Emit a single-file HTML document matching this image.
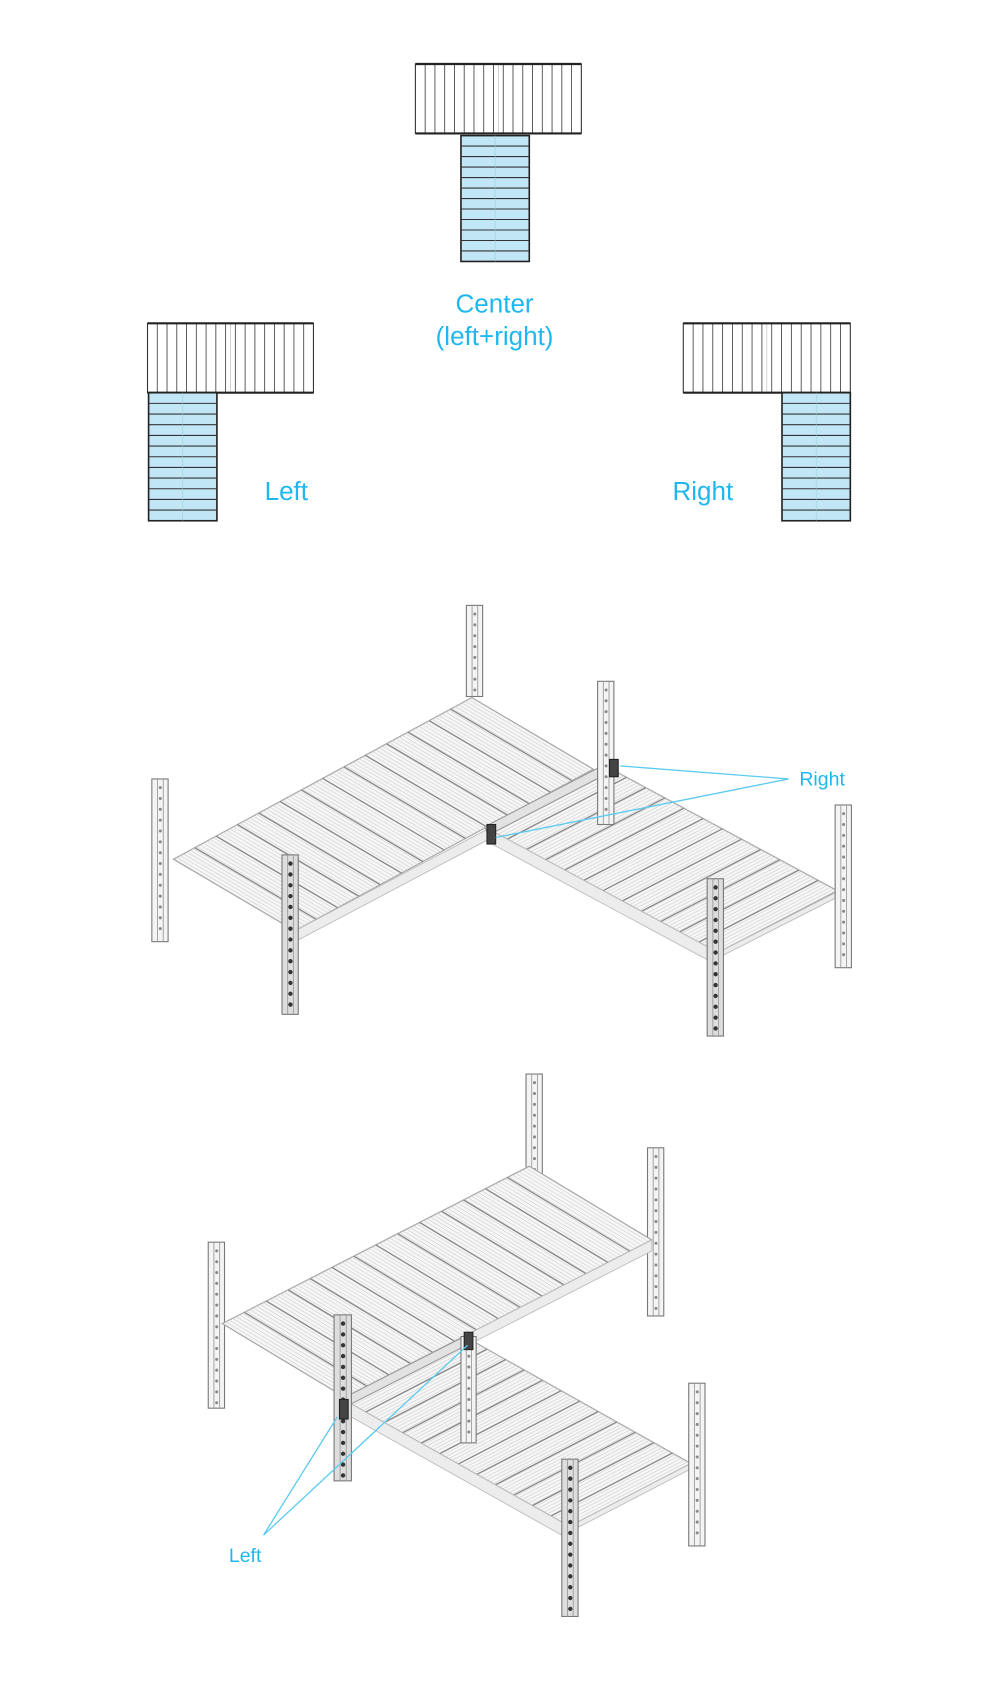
<!DOCTYPE html>
<html><head><meta charset="utf-8"><style>
html,body{margin:0;padding:0;background:#fff;width:1000px;height:1700px;overflow:hidden}
svg{display:block}
text{font-family:"Liberation Sans",sans-serif;fill:#1fb8ee}
</style></head><body>
<svg id="s" width="1000" height="1700" viewBox="0 0 922 1567" preserveAspectRatio="none" xmlns="http://www.w3.org/2000/svg">
<g id="g"></g>
<text x="456" y="288" font-size="24" text-anchor="middle">Center</text>
<text x="456" y="318" font-size="24" text-anchor="middle">(left+right)</text>
<text x="264" y="461" font-size="24" text-anchor="middle">Left</text>
<text x="648" y="461" font-size="24" text-anchor="middle">Right</text>
<text x="737" y="724" font-size="18">Right</text>
<text x="211" y="1440" font-size="18">Left</text>
</svg>
<script>
var g=document.getElementById('g'),h='';
function L(x1,y1,x2,y2,c,w){h+='<line x1="'+x1+'" y1="'+y1+'" x2="'+x2+'" y2="'+y2+'" stroke="'+c+'" stroke-width="'+(w||1)+'"/>';}
function R(x,y,w,hh,f,s,sw){h+='<rect x="'+x+'" y="'+y+'" width="'+w+'" height="'+hh+'" fill="'+f+'" stroke="'+s+'" stroke-width="'+(sw||1)+'"/>';}
function P(pts,f,s,sw){h+='<polygon points="'+pts.map(function(p){return p[0]+','+p[1]}).join(' ')+'" fill="'+f+'" stroke="'+s+'" stroke-width="'+(sw||1)+'"/>';}
// plans
function plan(x,y,w,hh,n){R(x,y,w,hh,'#fff','#333',1);for(var i=1;i<n;i++){var xx=x+w*i/n;L(xx,y,xx,y+hh,'#444',0.8);}L(x+w/2,y,x+w/2,y+hh,'#bbb',0.6);L(x,y,x+w,y,'#222',2);L(x,y+hh,x+w,y+hh,'#222',2);}
function blue(x,y,w,hh,n){R(x,y,w,hh,'#c1e7f7','#222',1.5);for(var i=1;i<n;i++){var yy=y+hh*i/n;L(x,yy,x+w,yy,'#333',1);}L(x+w/2,y,x+w/2,y+hh,'#9cc',0.5);}
plan(383,59,153,64,17);blue(425,125,63,116,12);
plan(136,298,153,64,17);blue(137,362,63,118,12);
plan(630,298,154,64,17);blue(721,362,63,118,12);
// decks
function deck(p,u,v,n,dense){
 var a=p,b=[p[0]+u[0],p[1]+u[1]],c=[b[0]+v[0],b[1]+v[1]],d=[p[0]+v[0],p[1]+v[1]];
 P([a,b,c,d],'#f6f6f6','#aaa',1.2);
 for(var i=1;i<dense;i++){var t=i/dense;L(a[0]+u[0]*t,a[1]+u[1]*t,d[0]+u[0]*t,d[1]+u[1]*t,'#d2d2d2',0.6);}
 for(var i=1;i<n;i++){var t=i/n;L(a[0]+u[0]*t,a[1]+u[1]*t,d[0]+u[0]*t,d[1]+u[1]*t,'#888',1.2);}
}
function side(p1,p2,th){P([p1,p2,[p2[0],p2[1]+th],[p1[0],p1[1]+th]],'#ececec','#bbb',0.8);}
function post(x,y1,y2,w,dark){
 w=w||15;R(x,y1,w,y2-y1,dark?'#ddd':'#f4f4f4','#777',1);
 L(x+w*0.35,y1,x+w*0.35,y2,'#999',0.8);L(x+w*0.7,y1,x+w*0.7,y2,'#999',0.8);
 for(var y=y1+8;y<y2-4;y+=10){h+='<circle cx="'+(x+w*0.52)+'" cy="'+y+'" r="'+(dark?2:1.4)+'" fill="'+(dark?'#333':'#888')+'"/>';}
}
// middle diagram
post(430,558,642);post(140,718,868);
deck([160,792],[275,-149],[112,66],14,90);
side([272,858],[450,764],10);
deck([450,764],[212,114],[110,-57],12,70);
side([450,764],[662,878],12);
side([662,878],[772,822],5);
P([[447,762],[557,705],[560,713],[450,770]],'#e2e2e2','#999',1);
post(551,628,760,15,false);
post(260,788,935,15,true);post(652,810,955,15,true);post(770,742,892);
R(562,700,8,16,'#444','#222');R(449,760,8,18,'#444','#222');
L(572,706,727,718,'#5ccbf0',1.2);L(457,772,727,718,'#5ccbf0',1.2);
// bottom diagram
post(485,990,1142);post(597,1058,1213);post(192,1145,1298);
deck([205,1220],[283,-145],[113,68],14,90);
side([318,1288],[601,1143],10);
deck([320,1292],[205,115],[112,-58],12,70);
side([320,1292],[525,1407],12);side([525,1407],[637,1349],5);
P([[318,1288],[432,1230],[434,1238],[320,1296]],'#e2e2e2','#999',1);
post(425,1232,1330,14,false);
post(308,1212,1365,16,true);post(518,1345,1490,15,true);post(635,1275,1425);
R(428,1228,8,16,'#444','#222');R(313,1290,8,18,'#444','#222');
L(243,1415,311,1306,'#5ccbf0',1.2);L(243,1415,431,1240,'#5ccbf0',1.2);
g.innerHTML=h;
</script>
</body></html>
